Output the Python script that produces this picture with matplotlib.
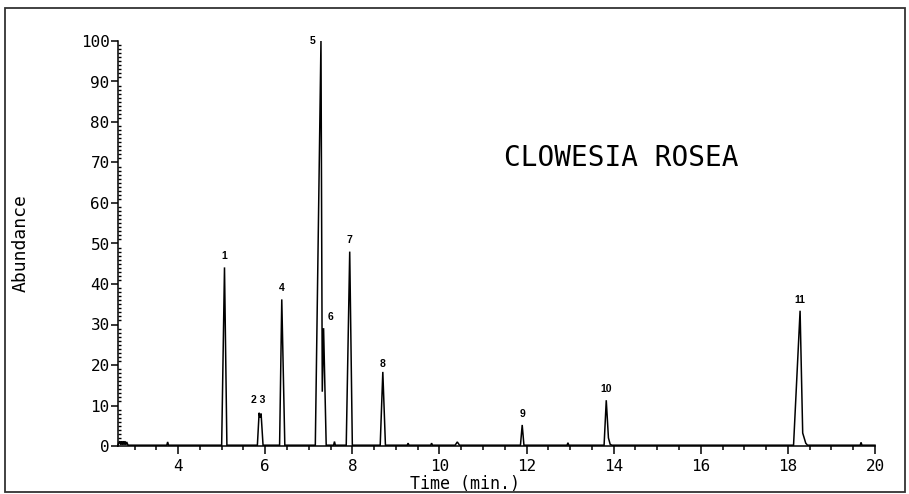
import matplotlib
matplotlib.use("Agg")
import matplotlib.pyplot as plt
from matplotlib.patches import Rectangle
from matplotlib.ticker import MultipleLocator

# ---- data ----
trace_time = [2.62, 2.66, 2.68, 2.70, 2.72, 2.74, 2.76, 2.78, 2.80, 2.82, 2.85,
              3.74, 3.76, 3.78,
              5.00, 5.065, 5.12,
              5.82, 5.86, 5.88, 5.905, 5.95,
              6.33, 6.38, 6.45,
              7.15, 7.28, 7.31, 7.34, 7.40,
              7.57, 7.59, 7.61,
              7.86, 7.94, 8.00,
              8.64, 8.70, 8.76,
              9.26, 9.28, 9.30,
              9.80, 9.82, 9.84,
              10.36, 10.41, 10.46,
              11.86, 11.90, 11.94,
              12.93, 12.95, 12.97,
              13.78, 13.83, 13.88, 13.92, 13.96,
              18.13, 18.28, 18.34, 18.41, 18.45,
              19.66, 19.68, 19.70, 20.0]
trace_abund = [0.3, 1.2, 0.3, 1.2, 0.3, 1.2, 0.3, 1.2, 0.3, 1.0, 0.2,
               0.2, 1.0, 0.2,
               0.2, 44.1, 0.2,
               0.2, 8.2, 7.0, 8.0, 0.2,
               0.2, 36.2, 0.2,
               0.2, 100.0, 13.4, 29.1, 0.2,
               0.2, 1.1, 0.2,
               0.2, 48.0, 0.2,
               0.2, 18.3, 0.2,
               0.2, 0.7, 0.2,
               0.2, 0.7, 0.2,
               0.2, 1.0, 0.2,
               0.2, 5.2, 0.2,
               0.2, 0.8, 0.2,
               0.2, 11.3, 2.0, 0.4, 0.2,
               0.2, 33.4, 3.2, 0.7, 0.2,
               0.2, 0.9, 0.2, 0.2]

peak_ids = ["1", "2 3", "4", "5", "6", "7", "8", "9", "10", "11"]
peak_times = [5.065, 5.88, 6.38, 7.28, 7.34, 7.94, 8.70, 11.90, 13.83, 18.28]
peak_heights = [44.1, 8.2, 36.2, 100.0, 29.1, 48.0, 18.3, 5.2, 11.3, 33.4]

x_ticks = [4, 6, 8, 10, 12, 14, 16, 18, 20]
y_ticks = [0, 10, 20, 30, 40, 50, 60, 70, 80, 90, 100]
title_text = "CLOWESIA ROSEA"

# label offsets (points) relative to each peak apex
label_offsets = {"1": (0, 8), "2 3": (-1, 9), "4": (0, 8), "5": (-6, 0), "6": (5, 8),
                 "7": (0, 8), "8": (0, 6), "9": (0, 8), "10": (0, 8), "11": (0, 8)}

W, H = 909, 494
fig = plt.figure(figsize=(W / 100, H / 100), dpi=100)
fig.patch.set_facecolor("white")

ax = fig.add_axes([118 / W, 1 - 446 / H, (875 - 118) / W, (446 - 41) / H])
ax.set_xlim(2.62, 20)
ax.set_ylim(0, 100)

ax.plot(trace_time, trace_abund, color="black", lw=1.1, clip_on=False, solid_joinstyle="miter")

for lab, t, h in zip(peak_ids, peak_times, peak_heights):
    dx, dy = label_offsets[lab]
    ax.annotate(lab, (t, h), xytext=(dx, dy), textcoords="offset points",
                ha="center", va="center", fontsize=7.5, fontweight="bold",
                family="Liberation Sans")

for s in ("top", "right"):
    ax.spines[s].set_visible(False)
for s in ("left", "bottom"):
    ax.spines[s].set_linewidth(1.1)

mono = "DejaVu Sans Mono"
ax.set_xticks(x_ticks)
ax.set_xticklabels([str(v) for v in x_ticks], family=mono, fontsize=11.5)
ax.set_yticks(y_ticks)
ax.set_yticklabels([str(v) for v in y_ticks], family=mono, fontsize=11.5)
ax.xaxis.set_minor_locator(MultipleLocator(0.5))
ax.yaxis.set_minor_locator(MultipleLocator(1))

ax.tick_params(axis="x", which="major", direction="out", length=6, width=1.1, pad=3)
ax.tick_params(axis="x", which="minor", direction="out", length=3, width=1.1)
ax.tick_params(axis="y", which="major", direction="out", length=5, width=1.1, pad=1)
ax.tick_params(axis="y", which="minor", direction="in", length=2.5, width=1.0)

fig.text(465 / W, 1 - 484 / H, "Time (min.)", family=mono, fontsize=12,
         ha="center", va="center")
fig.text(21 / W, 1 - 243 / H, "Abundance", family=mono, fontsize=13,
         ha="center", va="center", rotation=90)
fig.text(621 / W, 1 - 158 / H, title_text, family=mono, fontsize=20,
         ha="center", va="center")

fig.patches.append(Rectangle((5 / W, 1 - 492 / H), 900 / W, 484 / H,
                             transform=fig.transFigure, fill=False,
                             edgecolor="#333333", lw=1.3))

fig.savefig("out.png", dpi=100)
